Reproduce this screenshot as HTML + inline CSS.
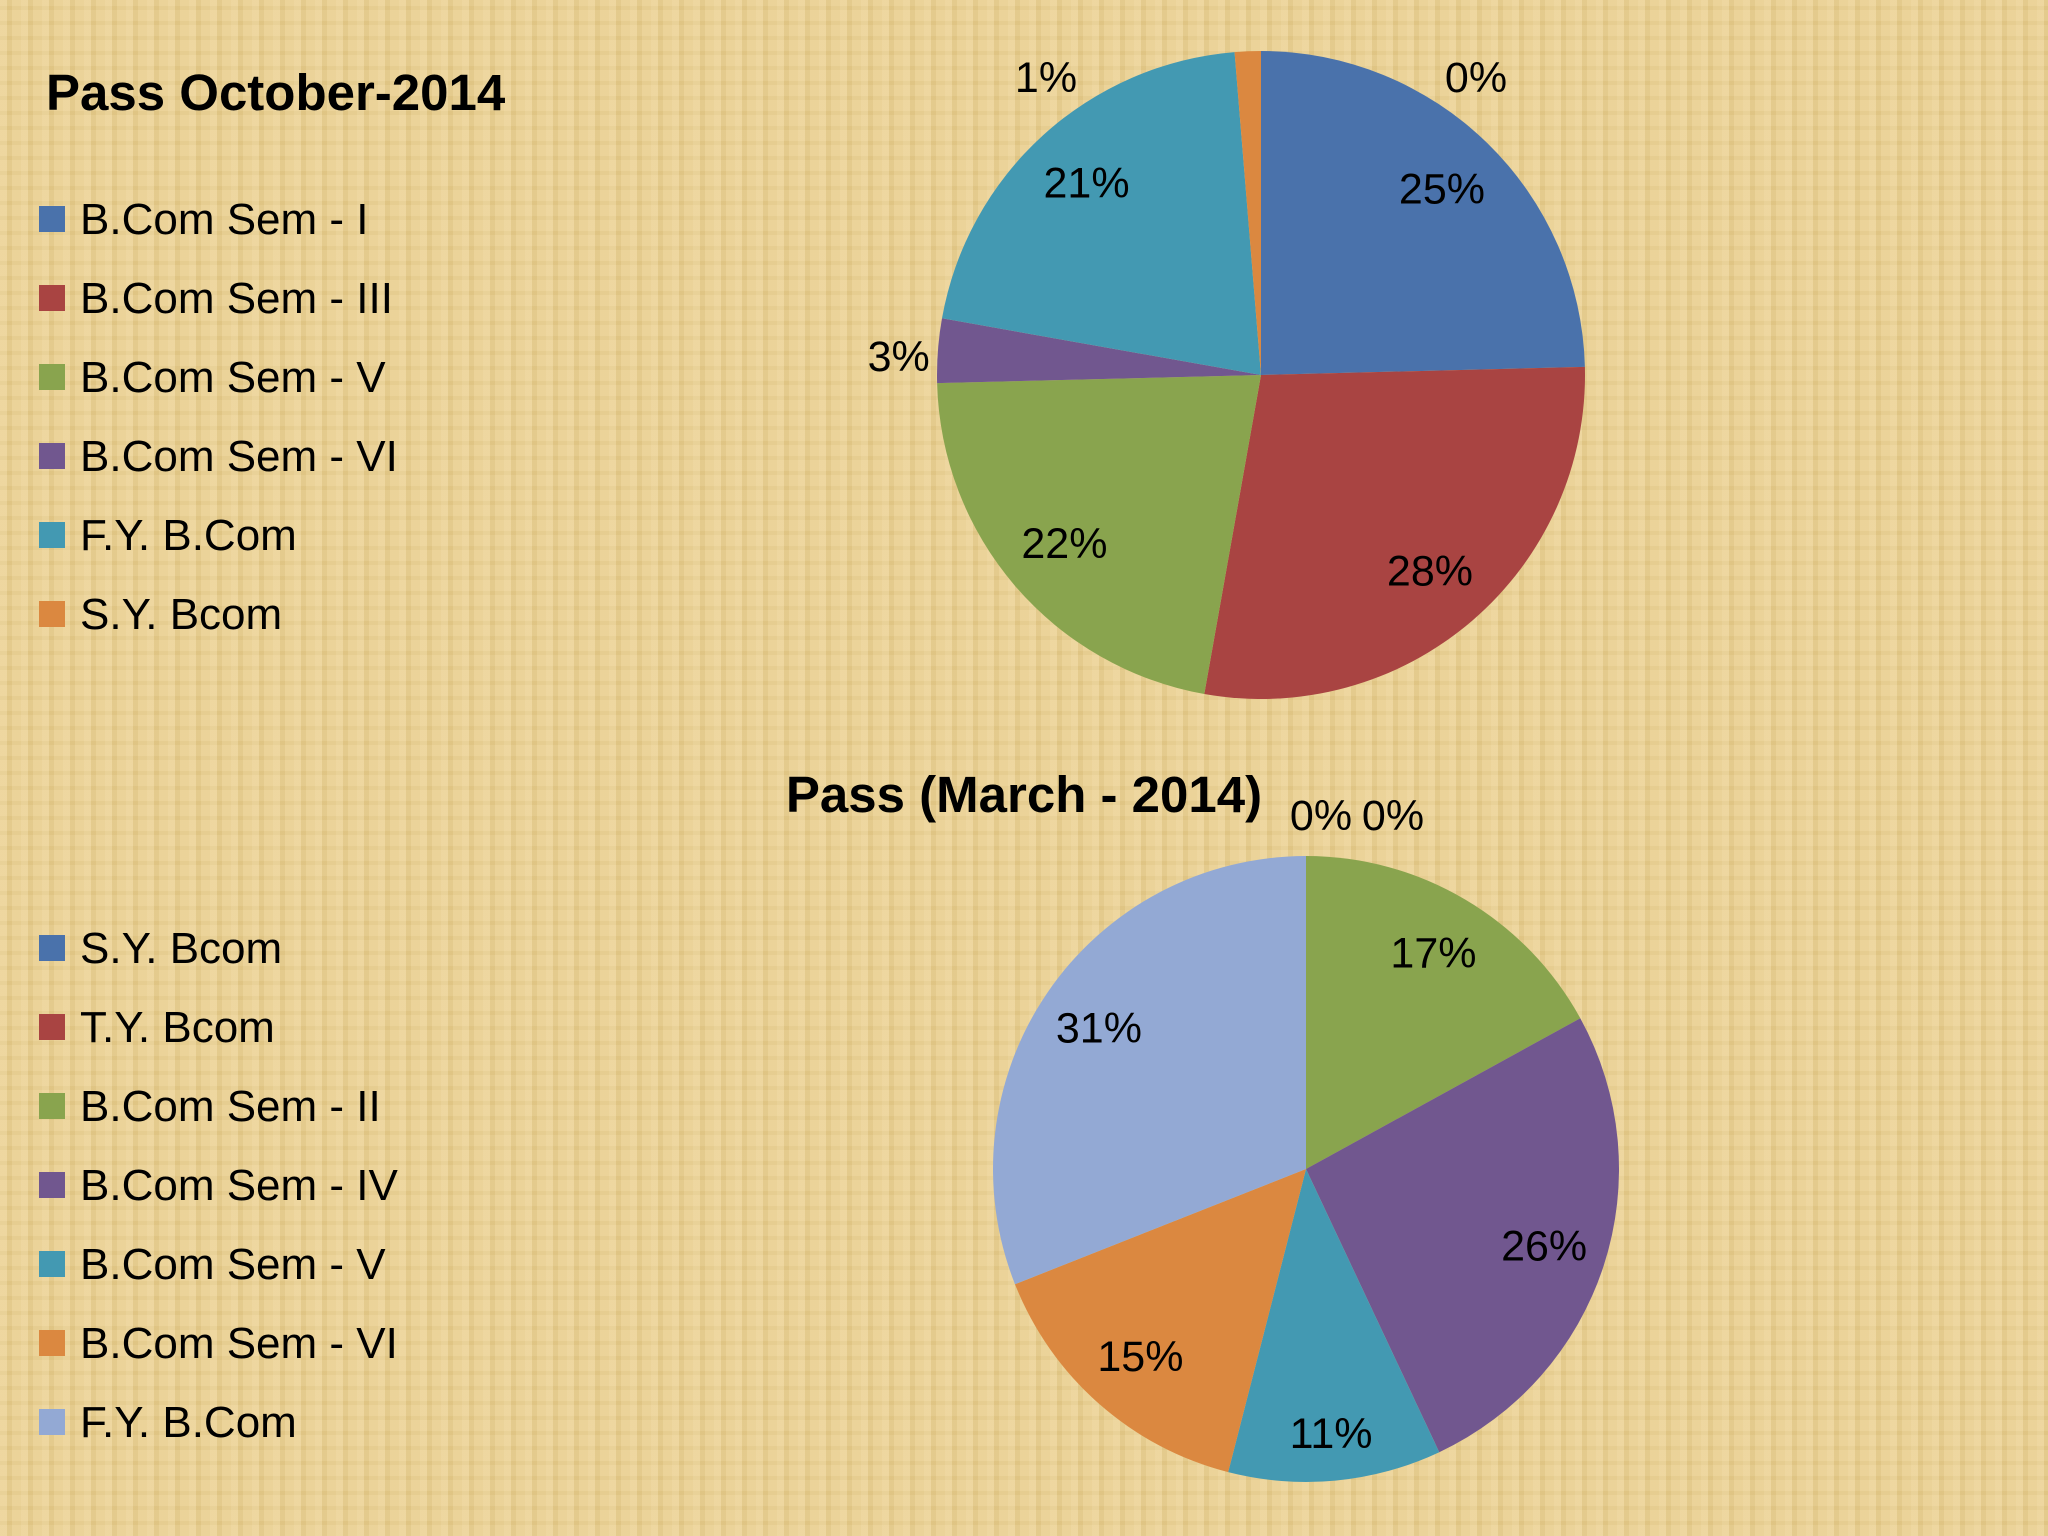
<!DOCTYPE html>
<html><head><meta charset="utf-8"><style>
html,body{margin:0;padding:0;width:2048px;height:1536px;overflow:hidden}
body{background:#e6cc8e;background-image:repeating-linear-gradient(90deg,rgba(255,240,200,0.22) 0 7px,rgba(190,160,80,0.10) 7px 12px,rgba(255,235,190,0.12) 12px 21px),repeating-linear-gradient(0deg,rgba(255,240,200,0.10) 0 11px,rgba(190,160,90,0.07) 11px 15px);font-family:"Liberation Sans",sans-serif}
svg{position:absolute;left:0;top:0}
</style></head><body>
<svg id="chart" width="2048" height="1536" viewBox="0 0 2048 1536"></svg>
<script>
const topCats=["B.Com Sem - I","B.Com Sem - III","B.Com Sem - V","B.Com Sem - VI","F.Y. B.Com","S.Y. Bcom"];
const topVals=[24.6,28.2,21.8,3.2,20.9,1.3,0];
const topLabels=["25%","28%","22%","3%","21%","1%","0%"];
const botCats=["S.Y. Bcom","T.Y. Bcom","B.Com Sem - II","B.Com Sem - IV","B.Com Sem - V","B.Com Sem - VI","F.Y. B.Com"];
const botVals=[0,0,17,26,11,15,31];
const botLabels=["0%","0%","17%","26%","11%","15%","31%"];
const topColors=["#4a72ab","#a94442","#89a44e","#71578f","#4399b2","#db8840","#93a9d4"];
const botColors=["#4a72ab","#a94442","#89a44e","#71578f","#4399b2","#db8840","#93a9d4"];
const NS="http://www.w3.org/2000/svg";
const svg=document.getElementById('chart');
function mk(t,a,p){const e=document.createElementNS(NS,t);for(const k in a)e.setAttribute(k,a[k]);(p||svg).appendChild(e);return e;}
function txt(x,y,s,size,bold,anchor){const e=mk('text',{x:x,y:y,'font-size':size,'font-weight':bold?'bold':'normal','text-anchor':anchor||'start',fill:'#000','font-family':'"Liberation Sans",sans-serif'});e.textContent=s;return e;}
function pie(cx,cy,r,vals,labels,colors,name){
  const g=mk('g',{});
  
  
  const tot=vals.reduce((a,b)=>a+b,0);let a0=0;let zeroCount=0;
  vals.forEach((v,i)=>{
    const a1=a0+v/tot*2*Math.PI;
    if(v>0){
      const x0=cx+r*Math.sin(a0),y0=cy-r*Math.cos(a0),x1=cx+r*Math.sin(a1),y1=cy-r*Math.cos(a1);
      const p=mk('path',{d:`M${cx},${cy}L${x0},${y0}A${r},${r} 0 ${a1-a0>Math.PI?1:0} 1 ${x1},${y1}Z`,fill:colors[i]},g);
      
      
    }
    const m=(a0+a1)/2;let lx,ly;
    if(v===0){
      if(name==='october-pie'){lx=cx+215;ly=cy-r+41;}
      else{lx=cx+15+zeroCount*72;ly=cy-r-26;}
      zeroCount++;
    }
    else if(v<2){lx=cx-215;ly=cy-r+41;}
    else if(v<5){const rr=r*1.14;lx=cx+rr*Math.sin(m)+6;ly=cy-rr*Math.cos(m)+24;}
    else{const rr=r*(v<13?0.85:0.8);lx=cx+rr*Math.sin(m);ly=cy-rr*Math.cos(m)+14;}
    const t=txt(lx,ly,labels[i],43,false,'middle');
    
    
    a0=a1;
  });
}
function legend(x,y0,cats,colors,name){
  cats.forEach((c,i)=>{
    const y=y0+i*79;
    const s=mk('rect',{x:x,y:y-26,width:26,height:26,fill:colors[i]});
    
    
    const t=txt(x+41,y+2,c,44,false);
    
    
  });
}
const t1=txt(46,110,"Pass October-2014",51,true);


const t2=txt(1024,812,"Pass (March - 2014)",51,true,'middle');


legend(39,232,topCats,topColors,'october-legend');
legend(39,961,botCats,botColors,'march-legend');
pie(1261,375,324,topVals,topLabels,topColors,'october-pie');
pie(1306,1169,313,botVals,botLabels,botColors,'march-pie');
</script>
</body></html>
